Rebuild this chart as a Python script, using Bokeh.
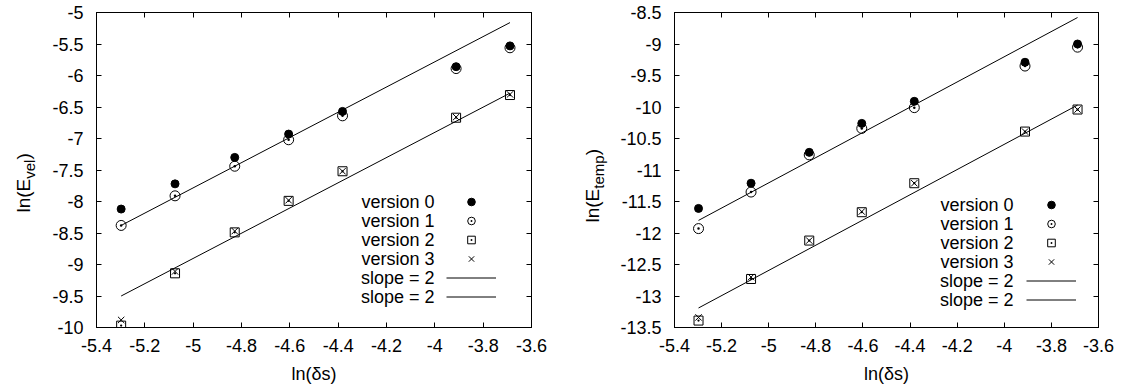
from bokeh.plotting import figure
from bokeh.layouts import row
from bokeh.models import Range1d, FixedTicker, LinearAxis, Label, Legend, LegendItem
from bokeh.embed import file_html
from bokeh.resources import INLINE
import math

# ---------------- data ----------------
ln_ds = [-5.298, -5.075, -4.828, -4.605, -4.382, -3.912, -3.689]
fit_x = [-5.298, -3.689]

vel_v0 = [-8.12, -7.72, -7.30, -6.93, -6.57, -5.86, -5.53]
vel_v1 = [-8.38, -7.91, -7.44, -7.02, -6.64, -5.89, -5.56]
vel_v2 = [-9.97, -9.14, -8.49, -7.99, -7.52, -6.67, -6.31]
vel_v3 = [-9.88, -9.11, -8.47, -7.98, -7.52, -6.66, -6.30]
vel_fit_hi = [-8.38, -5.16]
vel_fit_lo = [-9.50, -6.28]

temp_v0 = [-11.61, -11.21, -10.72, -10.26, -9.91, -9.29, -9.00]
temp_v1 = [-11.93, -11.35, -10.76, -10.34, -10.01, -9.35, -9.05]
temp_v2 = [-13.39, -12.73, -12.12, -11.67, -11.21, -10.39, -10.04]
temp_v3 = [-13.34, -12.70, -12.12, -11.66, -11.21, -10.39, -10.04]
temp_fit_hi = [-11.80, -8.58]
temp_fit_lo = [-13.19, -9.97]

series_names = ["version 0", "version 1", "version 2", "version 3", "slope = 2", "slope = 2"]

x_ticks = [-5.4, -5.2, -5.0, -4.8, -4.6, -4.4, -4.2, -4.0, -3.8, -3.6]
x_tick_labels = ["-5.4", "-5.2", "-5", "-4.8", "-4.6", "-4.4", "-4.2", "-4", "-3.8", "-3.6"]
vel_ticks = [-10.0, -9.5, -9.0, -8.5, -8.0, -7.5, -7.0, -6.5, -6.0, -5.5, -5.0]
vel_tick_labels = ["-10", "-9.5", "-9", "-8.5", "-8", "-7.5", "-7", "-6.5", "-6", "-5.5", "-5"]
temp_ticks = [-13.5, -13.0, -12.5, -12.0, -11.5, -11.0, -10.5, -10.0, -9.5, -9.0, -8.5]
temp_tick_labels = ["-13.5", "-13", "-12.5", "-12", "-11.5", "-11", "-10.5", "-10", "-9.5", "-9", "-8.5"]

FONT = "Liberation Sans"
FS = "18px"
H = 389
FRAME_H = 315
BORDER_TOP = 12
BORDER_BOTTOM = H - FRAME_H - BORDER_TOP

# Arial / Liberation Sans advance widths (per 1000 em)
ARIAL_W = {'l': 222, 'n': 556, '(': 333, 'E': 667, ')': 333, 'v': 500, 'e': 556,
           't': 278, 'm': 833, 'p': 556}


def text_w(s, fs):
    return sum(ARIAL_W[c] for c in s) / 1000.0 * fs


def style_axis(ax, ticks, labels, show_labels, standoff=12):
    ax.ticker = FixedTicker(ticks=ticks)
    ax.axis_line_color = "black"
    ax.axis_line_width = 1
    ax.major_tick_line_color = "black"
    ax.major_tick_in = 5
    ax.major_tick_out = 0
    ax.minor_tick_line_color = None
    ax.major_label_text_font = FONT
    if show_labels:
        ax.major_label_overrides = {t: l for t, l in zip(ticks, labels)}
        ax.major_label_text_color = "black"
        ax.major_label_text_font_size = FS
        ax.major_label_standoff = standoff
    else:
        ax.major_label_text_color = None
        ax.major_label_text_font_size = "1px"
        ax.major_label_standoff = 0


def ylabel_fig(width, sub, base_x, start_page_y):
    # a narrow figure with no title/axes: its frame is the whole canvas
    f = figure(frame_width=width, frame_height=H, output_backend="svg", toolbar_location=None,
               title=None, x_range=Range1d(0, 1), y_range=Range1d(0, 1), min_border=0,
               x_axis_type=None, y_axis_type=None)
    f.outline_line_color = None
    f.xgrid.visible = False
    f.ygrid.visible = False
    fs_main, fs_sub = 19, 15
    main = "ln(E"
    y0 = H - start_page_y
    y1 = y0 + text_w(main, fs_main)
    y2 = y1 + text_w(sub, fs_sub)
    for txt, x, y, fs in [(main, base_x, y0, fs_main), (sub, base_x + 6, y1, fs_sub),
                          (")", base_x, y2, fs_main)]:
        f.add_layout(Label(x=x, y=y, x_units="screen", y_units="screen", text=txt,
                           angle=math.pi / 2, text_font=FONT, text_font_size=f"{fs}px",
                           text_color="black", text_align="left", text_baseline="alphabetic"))
    return f


def make_panel(frame_w, bl, br, y_lo, y_hi, yticks, ylabels, v0, v1, v2, v3, fhi, flo,
               leg_x, leg_y, leg_text_x):
    p = figure(frame_width=frame_w, frame_height=FRAME_H, output_backend="svg", toolbar_location=None,
               x_range=Range1d(-5.4, -3.6), y_range=Range1d(y_lo, y_hi),
               min_border_left=bl, min_border_right=br, min_border_top=BORDER_TOP,
               min_border_bottom=BORDER_BOTTOM, x_axis_type=None, y_axis_type=None)
    p.outline_line_color = "black"
    p.xgrid.visible = False
    p.ygrid.visible = False

    xb = LinearAxis(); style_axis(xb, x_ticks, x_tick_labels, True, 11)
    xb.axis_label = "ln(δs)"
    xb.axis_label_text_font = FONT
    xb.axis_label_text_font_size = FS
    xb.axis_label_text_font_style = "normal"
    xb.axis_label_text_color = "black"
    xb.axis_label_standoff = 9
    p.add_layout(xb, "below")
    xa = LinearAxis(); style_axis(xa, x_ticks, x_tick_labels, False); p.add_layout(xa, "above")
    yl = LinearAxis(); style_axis(yl, yticks, ylabels, True, 13); p.add_layout(yl, "left")
    yr = LinearAxis(); style_axis(yr, yticks, ylabels, False); p.add_layout(yr, "right")

    r4 = p.line(fit_x, fhi, line_color="black", line_width=1)
    r5 = p.line(fit_x, flo, line_color="black", line_width=1)
    r0 = p.scatter(ln_ds, v0, marker="circle", size=8, fill_color="black", line_color="black")
    r1 = p.scatter(ln_ds, v1, marker="circle_dot", size=10, fill_color=None, line_color="black", line_width=1)
    r2 = p.scatter(ln_ds, v2, marker="square_dot", size=9, fill_color=None, line_color="black", line_width=1)
    r3 = p.scatter(ln_ds, v3, marker="x", size=9, line_color="black", line_width=1)

    items = [LegendItem(label=" ", renderers=[r]) for r in [r0, r1, r2, r3, r4, r5]]
    leg = Legend(items=items, location=(leg_x, leg_y), orientation="vertical",
                 glyph_width=50, glyph_height=19, label_height=19, label_width=0,
                 label_standoff=0, padding=0, spacing=0, margin=0,
                 border_line_color=None, background_fill_alpha=0,
                 label_text_font_size="1px", label_text_color=None)
    p.add_layout(leg, "center")

    top_row_y = leg_y + 19 * 5 + 9.5
    for i, name in enumerate(series_names):
        p.add_layout(Label(x=leg_text_x, y=top_row_y - 19 * i, x_units="screen", y_units="screen",
                           text=name, text_font=FONT, text_font_size=FS, text_color="black",
                           text_align="right", text_baseline="middle"))
    return p


# page origin is (0, 0): left group x 0..560, right group x 560..1124
f1 = ylabel_fig(48, "vel", 23, 200)
p1 = make_panel(435, 48, 29, -10, -5, vel_ticks, vel_tick_labels,
                vel_v0, vel_v1, vel_v2, vel_v3, vel_fit_hi, vel_fit_lo,
                350, 21, 338)
f2 = ylabel_fig(50, "temp", 32, 210)
p2 = make_panel(424, 64, 26, -13.5, -8.5, temp_ticks, temp_tick_labels,
                temp_v0, temp_v1, temp_v2, temp_v3, temp_fit_hi, temp_fit_lo,
                352, 18.5, 339)

layout = row(f1, p1, f2, p2, spacing=0)
open("out.html", "w").write(file_html(layout, INLINE))
